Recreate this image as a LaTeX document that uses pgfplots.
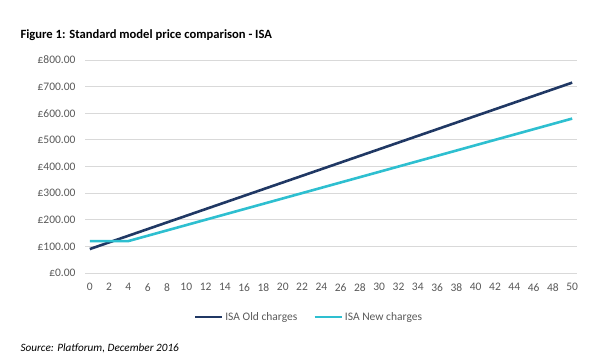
\documentclass[border=0pt]{standalone}
\usepackage{pgfplots}
\pgfplotsset{compat=1.18}
\usepackage{fontspec}
\setmainfont{Carlito}
\definecolor{oldc}{HTML}{203864}
\definecolor{newc}{HTML}{2EBFD0}
\definecolor{tickc}{HTML}{595959}
\definecolor{gridc}{HTML}{D9D9D9}
\begin{document}
\begin{tikzpicture}
\path[use as bounding box] (0pt,0pt) rectangle (610pt,-363pt);
\node[anchor=west,font=\fontsize{12.6}{14}\selectfont\bfseries] at (17pt,-35pt) {Figure 1: Standard model price comparison - ISA};
\node[anchor=west,font=\fontsize{11.2}{13}\selectfont\itshape] at (17pt,-348pt) {Source: Platforum, December 2016};
\begin{axis}[
  at={(85pt,-273pt)}, anchor=south west,
  scale only axis, width=492pt, height=213pt,
  xmin=-0.5, xmax=50.5, ymin=0, ymax=800,
  axis line style={draw=none},
  ymajorgrids, major grid style={gridc, line width=0.8pt},
  xtick={0,2,...,50}, ytick={0,100,...,800},
  yticklabels={£0.00,£100.00,£200.00,£300.00,£400.00,£500.00,£600.00,£700.00,£800.00},
  tick style={draw=none},
  ticklabel style={font=\fontsize{11.5}{13}\selectfont, text=tickc},
  /pgf/number format/assume math mode=true,
  xticklabel style={yshift=-7pt},
  yticklabel style={xshift=-6pt},
  legend columns=2,
  legend style={at={(0.455,-0.165)}, anchor=north, draw=none, fill=none,
    font=\fontsize{11.5}{13}\selectfont, text=tickc,
    /tikz/every even column/.append style={column sep=14pt}},
  legend image code/.code={\draw[#1] (0pt,0pt) -- (27pt,0pt);},
]
\addplot[oldc, line width=2.6pt] coordinates {
(0,90)(2,115)(4,140)(6,165)(8,190)(10,215)(12,240)(14,265)(16,290)(18,315)(20,340)(22,365)(24,390)(26,415)(28,440)(30,465)(32,490)(34,515)(36,540)(38,565)(40,590)(42,615)(44,640)(46,665)(48,690)(50,715)};
\addlegendentry{ISA Old charges}
\addplot[newc, line width=2.6pt] coordinates {
(0,120)(2,120)(4,120)(6,140)(8,160)(10,180)(12,200)(14,220)(16,240)(18,260)(20,280)(22,300)(24,320)(26,340)(28,360)(30,380)(32,400)(34,420)(36,440)(38,460)(40,480)(42,500)(44,520)(46,540)(48,560)(50,580)};
\addlegendentry{ISA New charges}
\end{axis}
\end{tikzpicture}
\end{document}
